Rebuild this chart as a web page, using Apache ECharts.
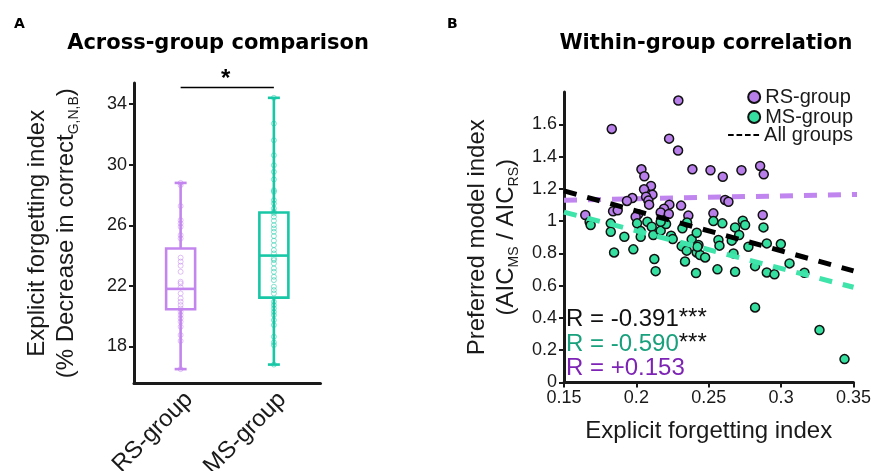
<!DOCTYPE html>
<html>
<head>
<meta charset="utf-8">
<script src="https://cdn.jsdelivr.net/npm/echarts@6/dist/echarts.min.js"></script>
<style>
html,body{margin:0;padding:0;background:#fff;}
#chart{width:871px;height:471px;}
</style>
</head>
<body>
<div id="chart"></div>
<script>
// ---------- Panel A data ----------
const categories = ['RS-group', 'MS-group'];
// [min, Q1, median, Q3, max]
const rsBox = [16.5, 20.45, 21.8, 24.47, 28.8];
const msBox = [16.8, 21.22, 24.0, 26.85, 34.42];
const rsPoints = [28.8, 28.65, 27.27, 26.34, 26.12, 25.9, 25.35, 25.13, 23.86, 23.6, 23.33, 22.93, 22.27, 22.16, 21.9, 21.5, 21.17, 20.95, 20.73, 20.5, 20.29, 20.07, 19.85, 19.63, 19.3, 18.75, 18.36, 16.5];
const msPoints = [34.42, 32.72, 31.62, 30.63, 29.97, 29.53, 29.03, 28.32, 28.21, 27.66, 27.44, 27.11, 26.89, 26.78, 26.56, 26.30, 26.01, 25.79, 25.57, 25.29, 24.98, 24.69, 24.36, 24.14, 23.81, 23.70, 23.48, 23.15, 22.93, 22.60, 22.38, 21.94, 21.72, 21.50, 20.95, 20.73, 20.51, 20.28, 20.07, 19.74, 19.41, 18.64, 18.27, 18.09, 16.8];
const yTicksA = [18, 22, 26, 30, 34];
const sigLevel = 35.1;

// ---------- Panel B data ----------
const rsX = [0.229, 0.183, 0.2226, 0.2288, 0.2035, 0.2055, 0.2387, 0.2512, 0.2597, 0.2726, 0.2855, 0.288, 0.2101, 0.2053, 0.2111, 0.2067, 0.2083, 0.1972, 0.1935, 0.2088, 0.2228, 0.2309, 0.2613, 0.2636, 0.2191, 0.2168, 0.2224, 0.2359, 0.1839, 0.1871, 0.1647, 0.2012, 0.1995, 0.2532, 0.2873];
const rsY = [1.747, 1.571, 1.511, 1.437, 1.321, 1.278, 1.321, 1.315, 1.275, 1.315, 1.342, 1.290, 1.218, 1.197, 1.164, 1.151, 1.127, 1.143, 1.125, 1.102, 1.102, 1.096, 1.131, 1.120, 1.077, 1.054, 1.044, 1.034, 1.061, 1.067, 1.038, 1.042, 1.027, 1.048, 1.038];
const msX = [0.1677, 0.1684, 0.1823, 0.1823, 0.1846, 0.1917, 0.1979, 0.2005, 0.203, 0.203, 0.2076, 0.2106, 0.2117, 0.2124, 0.2133, 0.2168, 0.2205, 0.2240, 0.2251, 0.2313, 0.2318, 0.2348, 0.2336, 0.2350, 0.2382, 0.2417, 0.2429, 0.2417, 0.2440, 0.2475, 0.2412, 0.2532, 0.2567, 0.2574, 0.2560, 0.2594, 0.2659, 0.2671, 0.2682, 0.2710, 0.2682, 0.2735, 0.2751, 0.2774, 0.2820, 0.2820, 0.2878, 0.2901, 0.2901, 0.2954, 0.2998, 0.3058, 0.3161, 0.3265, 0.3438, 0.2168, 0.2422];
const msY = [0.996, 0.976, 0.986, 0.934, 0.806, 0.903, 0.825, 0.986, 0.938, 0.903, 0.996, 0.965, 0.914, 0.765, 0.690, 0.941, 0.982, 0.910, 0.889, 0.845, 0.955, 0.817, 0.750, 0.992, 0.887, 0.928, 0.852, 0.806, 0.790, 0.775, 0.678, 1.000, 0.883, 0.848, 0.701, 0.986, 0.879, 0.800, 0.961, 0.914, 0.686, 1.003, 0.976, 0.841, 0.721, 0.465, 0.961, 0.862, 0.682, 0.670, 0.858, 0.738, 0.680, 0.325, 0.145, 0.996, 0.841];
const fitX = [0.15, 0.35];
const allFitY = [1.187, 0.692];
const msFitY = [1.056, 0.590];
const rsFitX = [0.15, 0.356];
const rsFitY = [1.130, 1.166];
const yTicksB = [0, 0.2, 0.4, 0.6, 0.8, 1, 1.2, 1.4, 1.6];
const xTicksB = [0.15, 0.2, 0.25, 0.3, 0.35];
const rAll = '-0.391', rMS = '-0.590', rRS = '+0.153';

// ---------- styling ----------
const FONT = '"Liberation Sans", Arial, Helvetica, sans-serif';
const TFONT = '"DejaVu Sans", "Liberation Sans", Arial, sans-serif';
const INK = '#1a1a1a';
const RS_BOX = '#c386ee';
const MS_BOX = '#17c7a6';
const RS_FILL = '#b87ee9';
const MS_FILL = '#34df9f';
const RS_LINE = '#c185f0';
const MS_LINE = '#3fe4ab';

const zip = (a, b) => a.map((v, i) => [v, b[i]]);

function boxRender(color) {
  return function (params, api) {
    const c = api.value(0);
    const p = k => api.coord([c, api.value(k)]);
    const pMin = p(1), pQ1 = p(2), pMed = p(3), pQ3 = p(4), pMax = p(5);
    const hw = 14.5, cw = 6;
    const x = pMin[0];
    const st = { stroke: color, lineWidth: 2.6, fill: null };
    return {
      type: 'group',
      children: [
        { type: 'line', shape: { x1: x, y1: pMin[1], x2: x, y2: pQ1[1] }, style: st },
        { type: 'line', shape: { x1: x, y1: pQ3[1], x2: x, y2: pMax[1] }, style: st },
        { type: 'line', shape: { x1: x - cw, y1: pMin[1], x2: x + cw, y2: pMin[1] }, style: st },
        { type: 'line', shape: { x1: x - cw, y1: pMax[1], x2: x + cw, y2: pMax[1] }, style: st },
        { type: 'rect', shape: { x: x - hw, y: pQ3[1], width: 2 * hw, height: pQ1[1] - pQ3[1] }, style: st },
        { type: 'line', shape: { x1: x - hw, y1: pMed[1], x2: x + hw, y2: pMed[1] }, style: st }
      ]
    };
  };
}

const chart = echarts.init(document.getElementById('chart'), null, { renderer: 'canvas' });

const option = {
  backgroundColor: '#fff',
  animation: false,
  textStyle: { fontFamily: FONT },
  title: [
    { text: 'A', left: 9, top: 12, textStyle: { fontSize: 14, fontWeight: 'bold', color: '#000', fontFamily: TFONT } },
    { text: 'B', left: 442, top: 12, textStyle: { fontSize: 14, fontWeight: 'bold', color: '#000', fontFamily: TFONT } },
    { text: 'Across-group comparison', left: 213, textAlign: 'center', top: 28, textStyle: { fontSize: 21, fontWeight: 'bold', color: '#000', fontFamily: TFONT } },
    { text: 'Within-group correlation', left: 701, textAlign: 'center', top: 28, textStyle: { fontSize: 21, fontWeight: 'bold', color: '#000', fontFamily: TFONT } }
  ],
  legend: [
    {
      data: ['RS-group', 'MS-group'], orient: 'vertical', right: 18, top: 87,
      itemWidth: 12, itemHeight: 12, itemGap: 0, padding: 0, icon: 'circle',
      textStyle: { fontSize: 20, color: INK, fontFamily: FONT, lineHeight: 18 }
    },
    {
      data: [{ name: 'All groups', icon: 'path://M0,0H6V2H0Z M9,0H15V2H9Z M18,0H24V2H18Z M27,0H33V2H27Z' }],
      right: 18, top: 125, itemWidth: 31, itemHeight: 3, padding: 0,
      textStyle: { fontSize: 20, color: INK, fontFamily: FONT, lineHeight: 18 }
    }
  ],
  grid: [
    { left: 134, top: 83, width: 186.5, height: 300.5, containLabel: false, outerBoundsMode: 'none' },
    { left: 564, top: 92, width: 289.5, height: 290.5, containLabel: false, outerBoundsMode: 'none' }
  ],
  xAxis: [
    {
      gridIndex: 0, type: 'category', data: categories, boundaryGap: true,
      axisLine: { lineStyle: { color: INK, width: 3 } },
      axisTick: { alignWithLabel: true, length: 5, lineStyle: { width: 2, color: INK } },
      axisLabel: { rotate: 45, fontSize: 24, color: INK, margin: 4, verticalAlign: 'top', fontFamily: FONT, hideOverlap: false }
    },
    {
      gridIndex: 1, type: 'value', min: 0.15, max: 0.35,
      axisLine: { lineStyle: { color: INK, width: 3 } },
      axisTick: { length: 5, lineStyle: { width: 2, color: INK }, customValues: xTicksB },
      axisLabel: { fontSize: 18, color: INK, margin: 7, fontFamily: FONT, customValues: xTicksB },
      splitLine: { show: false },
      name: 'Explicit forgetting index', nameLocation: 'middle', nameGap: 37,
      nameTextStyle: { fontSize: 24, color: INK, fontFamily: FONT }
    }
  ],
  yAxis: [
    {
      gridIndex: 0, type: 'value', min: 15.55, max: 35.4,
      axisLine: { show: true, lineStyle: { color: INK, width: 3 } },
      axisTick: { show: true, length: 5, lineStyle: { width: 2, color: INK }, customValues: yTicksA },
      axisLabel: { fontSize: 18, color: INK, margin: 7, fontFamily: FONT, customValues: yTicksA },
      splitLine: { show: false },
      name: 'Explicit forgetting index\n(% Decrease in correct{sub|G,N,B})',
      nameLocation: 'middle', nameGap: 53, nameRotate: 90,
      nameTextStyle: {
        fontSize: 24, color: INK, fontFamily: FONT, lineHeight: 29, align: 'center',
        rich: { sub: { fontSize: 14, color: INK, fontFamily: FONT, verticalAlign: 'bottom', lineHeight: 14 } }
      }
    },
    {
      gridIndex: 1, type: 'value', min: 0, max: 1.8,
      axisLine: { show: true, lineStyle: { color: INK, width: 3 } },
      axisTick: { show: true, length: 5, lineStyle: { width: 2, color: INK }, customValues: yTicksB },
      axisLabel: { fontSize: 18, color: INK, margin: 7, fontFamily: FONT, customValues: yTicksB },
      splitLine: { show: false },
      name: 'Preferred model index\n(AIC{sub|MS} / AIC{sub|RS})',
      nameLocation: 'middle', nameGap: 43, nameRotate: 90,
      nameTextStyle: {
        fontSize: 24, color: INK, fontFamily: FONT, lineHeight: 29, align: 'center',
        rich: { sub: { fontSize: 14, color: INK, fontFamily: FONT, verticalAlign: 'bottom', lineHeight: 14 } }
      }
    }
  ],
  series: [
    {
      name: 'RS box', type: 'custom', xAxisIndex: 0, yAxisIndex: 0,
      renderItem: boxRender(RS_BOX), encode: { x: 0, y: [1, 2, 3, 4, 5] },
      data: [[0].concat(rsBox)], z: 2
    },
    {
      name: 'MS box', type: 'custom', xAxisIndex: 0, yAxisIndex: 0,
      renderItem: boxRender(MS_BOX), encode: { x: 0, y: [1, 2, 3, 4, 5] },
      data: [[1].concat(msBox)], z: 2
    },
    {
      name: 'RS pts', type: 'scatter', xAxisIndex: 0, yAxisIndex: 0, symbol: 'circle', symbolSize: 5,
      itemStyle: { color: 'rgba(0,0,0,0)', borderColor: 'rgba(195,134,238,0.65)', borderWidth: 1 },
      data: rsPoints.map(v => [0, v]), z: 3
    },
    {
      name: 'MS pts', type: 'scatter', xAxisIndex: 0, yAxisIndex: 0, symbol: 'circle', symbolSize: 5,
      itemStyle: { color: 'rgba(0,0,0,0)', borderColor: 'rgba(23,199,166,0.65)', borderWidth: 1 },
      data: msPoints.map(v => [1, v]), z: 3
    },
    {
      name: 'sig', type: 'line', xAxisIndex: 0, yAxisIndex: 0, symbol: 'none', clip: false,
      lineStyle: { color: '#000', width: 1.5 },
      data: [[0, sigLevel], [1, sigLevel]], z: 4
    },
    {
      name: 'RS fit', type: 'line', xAxisIndex: 1, yAxisIndex: 1, symbol: 'none', clip: false,
      lineStyle: { color: RS_LINE, width: 5, type: [13, 11] }, data: zip(rsFitX, rsFitY), z: 5
    },
    {
      name: 'RS-group', type: 'scatter', xAxisIndex: 1, yAxisIndex: 1, symbol: 'circle', symbolSize: 9,
      itemStyle: { color: RS_FILL, borderColor: '#111', borderWidth: 1.5, opacity: 1 },
      data: zip(rsX, rsY), z: 6
    },
    {
      name: 'MS-group', type: 'scatter', xAxisIndex: 1, yAxisIndex: 1, symbol: 'circle', symbolSize: 9,
      itemStyle: { color: MS_FILL, borderColor: '#111', borderWidth: 1.5, opacity: 1 },
      data: zip(msX, msY), z: 7
    },
    {
      name: 'All groups', type: 'line', xAxisIndex: 1, yAxisIndex: 1, symbol: 'none', clip: false,
      itemStyle: { color: '#000' },
      lineStyle: { color: '#000', width: 5, type: [13, 11] }, data: zip(fitX, allFitY), z: 8
    },
    {
      name: 'MS fit', type: 'line', xAxisIndex: 1, yAxisIndex: 1, symbol: 'none', clip: false,
      lineStyle: { color: MS_LINE, width: 5, type: [13, 11] }, data: zip(fitX, msFitY), z: 8
    }
  ],
  graphic: [
    { type: 'text', left: 221, top: 67, style: { text: '*', font: 'bold 24px ' + FONT, fill: '#000' } },
    {
      type: 'text', left: 566, top: 306,
      style: {
        text: '{m|R = ' + rAll + '}{s|***}',
        rich: { m: { fontSize: 24, fill: '#111', fontFamily: FONT, lineHeight: 26 }, s: { fontSize: 24, fill: '#111', fontFamily: FONT, verticalAlign: 'top', lineHeight: 22 } }
      }
    },
    {
      type: 'text', left: 566, top: 331,
      style: {
        text: '{m|R = ' + rMS + '}{s|***}',
        rich: { m: { fontSize: 24, fill: '#19a07c', fontFamily: FONT, lineHeight: 26 }, s: { fontSize: 24, fill: '#111', fontFamily: FONT, verticalAlign: 'top', lineHeight: 22 } }
      }
    },
    {
      type: 'text', left: 566, top: 356,
      style: {
        text: '{m|R = ' + rRS + '}',
        rich: { m: { fontSize: 24, fill: '#7d23b5', fontFamily: FONT, lineHeight: 26 } }
      }
    }
  ]
};
chart.setOption(option);
</script>
</body>
</html>
